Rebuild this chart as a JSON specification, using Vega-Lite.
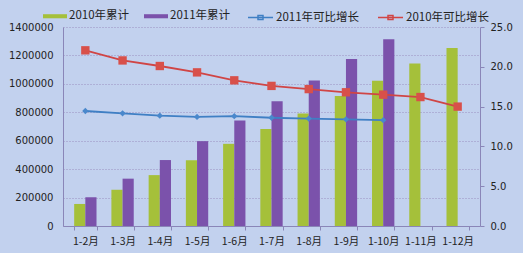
{
  "$schema": "https://vega.github.io/schema/vega-lite/v6.json",
  "width": 417,
  "height": 199,
  "autosize": {"type": "none"},
  "padding": {"left": 63, "top": 27, "right": 43, "bottom": 27},
  "background": "#c2d1ee",
  "config": {
    "view": {"stroke": null},
    "font": "DejaVu Sans",
    "axis": {"labelFont": "DejaVu Sans", "labelFontSize": 10, "labelColor": "#222222", "domainColor": "#8a86b8", "tickColor": "#8a86b8"},
    "legend": {"labelFont": "Noto Sans CJK SC", "labelFontSize": 11.5, "labelColor": "#222222"}
  },
  "datasets": {
    "bars": [
      {"month": "1-2月", "series": "2010年累计", "value": 155000},
      {"month": "1-2月", "series": "2011年累计", "value": 202000},
      {"month": "1-3月", "series": "2010年累计", "value": 255000},
      {"month": "1-3月", "series": "2011年累计", "value": 333000},
      {"month": "1-4月", "series": "2010年累计", "value": 358000},
      {"month": "1-4月", "series": "2011年累计", "value": 464000},
      {"month": "1-5月", "series": "2010年累计", "value": 462000},
      {"month": "1-5月", "series": "2011年累计", "value": 597000},
      {"month": "1-6月", "series": "2010年累计", "value": 578000},
      {"month": "1-6月", "series": "2011年累计", "value": 743000},
      {"month": "1-7月", "series": "2010年累计", "value": 682000},
      {"month": "1-7月", "series": "2011年累计", "value": 878000},
      {"month": "1-8月", "series": "2010年累计", "value": 792000},
      {"month": "1-8月", "series": "2011年累计", "value": 1024000},
      {"month": "1-9月", "series": "2010年累计", "value": 914000},
      {"month": "1-9月", "series": "2011年累计", "value": 1174000},
      {"month": "1-10月", "series": "2010年累计", "value": 1021000},
      {"month": "1-10月", "series": "2011年累计", "value": 1314000},
      {"month": "1-11月", "series": "2010年累计", "value": 1143000},
      {"month": "1-12月", "series": "2010年累计", "value": 1253000}
    ],
    "lines": [
      {"month": "1-2月", "series": "2011年可比增长", "rate": 14.45},
      {"month": "1-3月", "series": "2011年可比增长", "rate": 14.15},
      {"month": "1-4月", "series": "2011年可比增长", "rate": 13.86},
      {"month": "1-5月", "series": "2011年可比增长", "rate": 13.7},
      {"month": "1-6月", "series": "2011年可比增长", "rate": 13.8},
      {"month": "1-7月", "series": "2011年可比增长", "rate": 13.6},
      {"month": "1-8月", "series": "2011年可比增长", "rate": 13.5},
      {"month": "1-9月", "series": "2011年可比增长", "rate": 13.4},
      {"month": "1-10月", "series": "2011年可比增长", "rate": 13.3},
      {"month": "1-2月", "series": "2010年可比增长", "rate": 22.07},
      {"month": "1-3月", "series": "2010年可比增长", "rate": 20.8},
      {"month": "1-4月", "series": "2010年可比增长", "rate": 20.1},
      {"month": "1-5月", "series": "2010年可比增长", "rate": 19.3},
      {"month": "1-6月", "series": "2010年可比增长", "rate": 18.3},
      {"month": "1-7月", "series": "2010年可比增长", "rate": 17.6},
      {"month": "1-8月", "series": "2010年可比增长", "rate": 17.2},
      {"month": "1-9月", "series": "2010年可比增长", "rate": 16.8},
      {"month": "1-10月", "series": "2010年可比增长", "rate": 16.5},
      {"month": "1-11月", "series": "2010年可比增长", "rate": 16.2},
      {"month": "1-12月", "series": "2010年可比增长", "rate": 15.0}
    ]
  },
  "encoding": {
    "x": {
      "field": "month", "type": "nominal", "sort": null,
      "scale": {"domain": ["1-2月","1-3月","1-4月","1-5月","1-6月","1-7月","1-8月","1-9月","1-10月","1-11月","1-12月"], "paddingInner": 0.4, "paddingOuter": 0.3},
      "axis": {"title": null, "labelAngle": 0, "labelFont": "Noto Sans CJK SC", "labelFontSize": 10.5, "labelPadding": 6, "tickBand": "extent", "tickSize": 4}
    }
  },
  "layer": [
    {
      "data": {"name": "bars"},
      "mark": {"type": "bar"},
      "encoding": {
        "xOffset": {"field": "series", "type": "nominal", "scale": {"domain": ["2010年累计", "2011年累计"]}},
        "y": {
          "field": "value", "type": "quantitative",
          "scale": {"domain": [0, 1400000]},
          "axis": {"title": null, "orient": "left", "values": [0,200000,400000,600000,800000,1000000,1200000,1400000], "format": "d", "grid": true, "gridColor": "#9a8fc0", "gridDash": [1, 2], "ticks": false, "labelPadding": 10}
        },
        "fill": {
          "field": "series", "type": "nominal",
          "scale": {"domain": ["2010年累计", "2011年累计"], "range": ["#a5c03a", "#7b52ab"]},
          "legend": {"title": null, "orient": "none", "direction": "horizontal", "legendX": -20, "legendY": -23, "symbolType": "M-1,-0.17H1V0.17H-1Z", "symbolSize": 576, "symbolStrokeWidth": 0, "columnPadding": 14, "labelOffset": 2}
        }
      }
    },
    {
      "data": {"name": "lines"},
      "mark": {"type": "line", "strokeWidth": 1.8},
      "encoding": {
        "y": {
          "field": "rate", "type": "quantitative",
          "scale": {"domain": [0, 25]},
          "axis": {"title": null, "orient": "right", "values": [0,5,10,15,20,25], "format": ".1f", "grid": false, "ticks": true, "tickSize": 4, "labelPadding": 6}
        },
        "stroke": {
          "field": "series", "type": "nominal",
          "scale": {"domain": ["2011年可比增长", "2010年可比增长"], "range": ["#3f7fc4", "#d04545"]},
          "legend": {
            "title": null, "orient": "none", "direction": "horizontal", "legendX": 184, "legendY": -23,
            "symbolSize": 625, "symbolStrokeWidth": 1.5, "columnPadding": 15, "labelOffset": 2,
            "symbolType": "M-1,0H1M-0.2,-0.16H0.2V0.16H-0.2Z",
            "encoding": {
              "symbols": {
                "update": {
                  "fill": {"signal": "datum.value === '2011年可比增长' ? '#4a88cc' : '#d8504a'"}
                }
              }
            }
          }
        }
      }
    },
    {
      "data": {"name": "lines"},
      "transform": [{"filter": "datum.series === '2011年可比增长'"}],
      "mark": {"type": "point", "filled": true, "opacity": 1, "shape": "diamond", "size": 40, "color": "#4a88cc"},
      "encoding": {
        "y": {"field": "rate", "type": "quantitative", "scale": {"domain": [0, 25]}, "axis": null}
      }
    },
    {
      "data": {"name": "lines"},
      "transform": [{"filter": "datum.series === '2010年可比增长'"}],
      "mark": {"type": "point", "filled": true, "opacity": 1, "shape": "square", "size": 70, "color": "#d8504a"},
      "encoding": {
        "y": {"field": "rate", "type": "quantitative", "scale": {"domain": [0, 25]}, "axis": null}
      }
    }
  ],
  "resolve": {"scale": {"y": "independent"}}
}
